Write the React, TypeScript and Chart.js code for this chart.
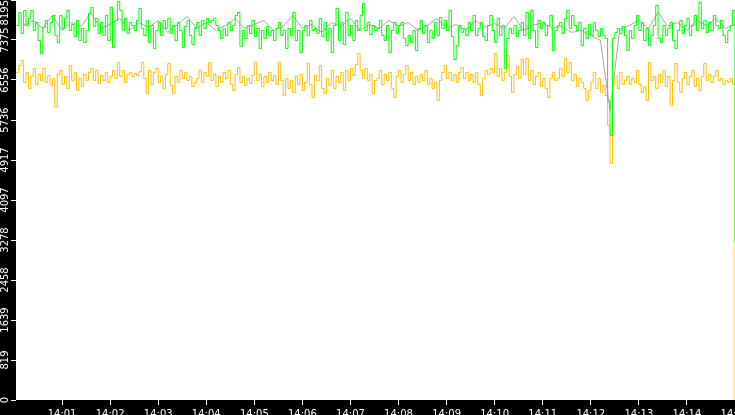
import { useEffect, useRef } from "react";
import { Chart, registerables } from "chart.js";

Chart.register(...registerables);

// seconds after 14:00:00
const sampleStep = 3;
const greySampleStep = 12;
const xMin = 2.5;
const xMax = 900;
const yMax = 8195;

const xTickLabels = [
  "14:01", "14:02", "14:03", "14:04", "14:05", "14:06", "14:07",
  "14:08", "14:09", "14:10", "14:11", "14:12", "14:13", "14:14", "14:15",
];
const yTickLabels = ["0", "819", "1639", "2458", "3278", "4097", "4917", "5736", "6556", "7375", "8195"];

const greenValues = [
  7674, 7940, 7510, 7981, 7674, 7817, 7981, 7571, 7735, 7366, 7100,
  7633, 7776, 7530, 7735, 7879, 7469, 7325, 7879, 7612, 7817,
  7981, 7571, 7694, 7448, 7776, 7366, 7612, 7325, 7571, 7920,
  8043, 7653, 7817, 7510, 7735, 7469, 7879, 7366, 8043, 7223,
  7776, 8166, 7981, 7571, 7817, 7510, 7735, 7674, 7571, 7776,
  8022, 7612, 7469, 7776, 7325, 7674, 7202, 7571, 7735, 7469,
  7776, 7612, 7817, 7510, 7674, 7366, 7735, 7571, 7223, 7653,
  7776, 7469, 7284, 7612,
  7735, 7469, 7776, 7612, 7817, 7735, 7776, 7817, 7674, 7571,
  7407, 7612, 7469, 7735, 7571, 7674, 7879, 7940, 7243, 7571,
  7407, 7674, 7510, 7776, 7448, 7612, 7202, 7571, 7407, 7653,
  7469, 7571, 7366, 7612, 7735, 7469, 7571, 7202, 7612, 7469,
  7940, 7366, 7571, 7120, 7571, 7674, 7469, 7776, 7571, 7612,
  7510, 7817, 7448, 7735, 7366, 7612, 7120, 7674, 8022, 7366,
  7735, 7284, 7940, 7469, 7674, 7366, 7776, 7571, 7879, 8125,
  7571, 7735, 7489, 7674, 7571,
  7612, 7776, 7469, 7366, 7674, 7120, 7571, 7735, 7510, 7674,
  7735, 7407, 7264, 7469, 7325, 7571, 7161, 7612, 7776, 7510,
  7674, 7325, 7571, 7407, 7735, 7469, 7838, 7612, 7776, 7571,
  7981, 7448, 6977, 7264, 7674, 7530, 7612, 7469, 7735, 7571,
  7879, 7469, 7612, 7735, 7448, 7366, 7674, 7879, 7571, 7325,
  7817, 7469, 7674, 6793, 7407, 7612, 7510, 7674, 7448, 7571,
  7735, 7469, 7940, 7407, 7981, 7571, 7223, 7776, 7612, 7735,
  7469, 7674, 7879, 7161, 7571,
  7674, 7735, 7510, 7817, 7981, 7612, 7879, 7674, 7571, 7735,
  7264, 7612, 7407, 7694, 7469, 7735, 7571, 7448, 7612, 7469,
  7407, 6137, 5420, 7407,
  7530, 7612, 7510, 7653, 7469, 7161, 7571, 7407, 7674, 7879,
  7571, 7735, 7366, 7612, 7264, 7469, 7674, 8084, 7407, 7325,
  7674, 7469, 7612, 7735, 7366, 7202, 7571, 7776, 7510, 7674,
  7817, 7469, 7674, 7879, 7571, 8145, 7612, 7776, 7530, 7735,
  7571, 7879, 7674, 7612, 7776, 7469, 7325, 7571, 7674, 7981,
  3227,
];

const orangeValues = [
  6711, 6854, 6957, 6506, 6711, 6383, 6629, 6793, 6465, 6670,
  6547, 6793, 6506, 6649, 6444, 6588, 5994, 6670, 6752, 6465,
  6629, 6383, 6854, 6547, 6711, 6342, 6588, 6424, 6670, 6547,
  6711, 6793, 6547, 6752, 6485, 6649, 6547, 6711, 6506, 6629,
  6752, 6588, 6916, 6629, 6752, 6506, 6670, 6711, 6629, 6690,
  6649, 6731, 6916, 6588, 6280, 6752, 6465, 6711, 6793, 6506,
  6629, 6383, 6670, 6895, 6444, 6280, 6629, 6506, 6752, 6588,
  6711, 6547, 6629, 6424, 6506,
  6588, 6752, 6506, 6711, 6629, 6916, 6547, 6670, 6424, 6629,
  6506, 6711, 6588, 6752, 6465, 6342, 6670, 6813, 6506, 6629,
  6444, 6588, 6485, 6649, 6916, 6547, 6670, 6424, 6629, 6506,
  6711, 6547, 6649, 6465, 6916, 6547, 6239, 6588, 6383, 6547,
  6301, 6629, 6465, 6670, 6342, 6506, 6895, 6465, 6198, 6649,
  6547, 6854, 6383, 6280, 6588, 6444, 6752, 6383, 6629, 6506,
  6711, 6342, 6752, 6547, 6793, 6649, 6875, 7100, 6752, 6588,
  6793, 6547, 6670, 6280, 6547,
  6588, 6752, 6465, 6670, 6547, 6711, 6383, 6198, 6629, 6752,
  6506, 6670, 6854, 6547, 6711, 6465, 6629, 6506, 6670, 6547,
  6752, 6465, 6588, 6383, 6506, 6137, 6547, 6711, 6854, 6588,
  6711, 6547, 6670, 6506, 6711, 6813, 6588, 6711, 6547, 6670,
  6506, 6711, 6465, 6239, 6588, 6752, 6670, 6793, 6711, 7100,
  6629, 6793, 6547, 6711, 7059, 6629, 6301, 6670, 6834, 6588,
  6977, 6670, 6998, 6547, 6752, 6465, 6629, 6711, 6424, 6588,
  6383, 6198, 6588, 6711, 6547,
  6588, 6793, 6629, 6998, 6711, 6916, 6547, 6670, 6424, 6588,
  6506, 6383, 6137, 6342, 6506, 6711, 6383, 6588, 6301, 6444,
  6239, 5625, 4846, 6465,
  6629, 6383, 6711, 6465, 6547, 6629, 6465, 6588, 6506, 6752,
  6465, 6301, 6424, 6137, 6916, 6547, 6629, 6383, 6670, 6506,
  6752, 6424, 6629, 6035, 6547, 6895, 6506, 6301, 6588, 6711,
  6465, 6629, 6752, 6424, 6588, 6342, 6629, 6895, 6547, 6670,
  6506, 6629, 6752, 6547, 6588, 6465, 6547, 6506, 6588, 6465,
  0,
];

const greyValues = [
  7674, 7776, 7612, 7879, 7571, 7735, 7653, 7940, 7612, 7694,
  7817, 7571, 7735, 7633, 7776, 7530, 7694, 7858, 7612, 7735,
  7571, 7674, 7817, 7612, 7694, 7776, 7571, 7653, 7879, 7612,
  7694, 7530, 7735, 7653, 7817, 7571, 7694, 7612, 7776, 7653,
  7735, 7571, 7674, 7817, 7612, 7694, 7571, 7776, 7633, 7715,
  7612, 7858, 7571, 7674, 7735, 7612, 7653, 7530, 7571, 7469,
  7366, 5932, 7571, 7674, 7776, 7612, 7940, 7653, 7735, 7571,
  7776, 7674, 7817, 7612, 7694,
];

const toPoints = (values: number[], step: number) =>
  values.map((y, i) => ({ x: (i + 1) * step, y }));

const tickFont = { family: "'DejaVu Sans', sans-serif", size: 10 };

const plotBackground = {
  id: "plotBackground",
  beforeDraw(chart: Chart) {
    const { ctx, chartArea, width, height } = chart;
    ctx.save();
    ctx.fillStyle = "#000";
    ctx.fillRect(0, 0, width, height);
    ctx.fillStyle = "#fff";
    ctx.fillRect(chartArea.left, chartArea.top, chartArea.right - chartArea.left, chartArea.bottom - chartArea.top);
    ctx.restore();
  },
};

export default function App() {
  const canvasRef = useRef<HTMLCanvasElement>(null);
  const chartRef = useRef<Chart | null>(null);

  useEffect(() => {
    document.body.style.margin = "0";
    if (!canvasRef.current) return;
    chartRef.current?.destroy();
    const lastY = yTickLabels.length - 1;
    chartRef.current = new Chart(canvasRef.current, {
      type: "line",
      data: {
        datasets: [
          { data: toPoints(greenValues, sampleStep), borderColor: "#00ff00", stepped: true },
          { data: toPoints(orangeValues, sampleStep), borderColor: "#ffc000", stepped: true },
          { data: toPoints(greyValues, greySampleStep), borderColor: "#a8a8a8" },
        ],
      },
      options: {
        responsive: false,
        devicePixelRatio: 1,
        animation: false,
        events: [],
        layout: { padding: 0 },
        elements: {
          point: { radius: 0 },
          line: { borderWidth: 1, tension: 0 },
        },
        plugins: { legend: { display: false }, tooltip: { enabled: false } },
        scales: {
          x: {
            type: "linear",
            min: xMin,
            max: xMax,
            afterBuildTicks: (axis: any) => {
              axis.ticks = xTickLabels.map((_, i) => ({ value: 60 * (i + 1) }));
            },
            afterFit: (axis: any) => {
              axis.height = 15;
              axis.paddingLeft = 0;
              axis.paddingRight = 0;
            },
            grid: { drawOnChartArea: false, tickLength: 5, color: "#fff" },
            border: { display: false },
            ticks: {
              color: "#fff",
              padding: 3,
              maxRotation: 0,
              autoSkip: false,
              font: tickFont,
              callback: (_v: any, i: number) => xTickLabels[i],
            },
          },
          y: {
            min: 0,
            max: yMax,
            afterBuildTicks: (axis: any) => {
              axis.ticks = yTickLabels.map((_, i) => ({ value: (yMax * i) / lastY }));
            },
            afterFit: (axis: any) => {
              axis.width = 16;
              axis.paddingTop = 0;
              axis.paddingBottom = 0;
            },
            grid: { drawOnChartArea: false, tickLength: 5, color: "#fff" },
            border: { display: false },
            ticks: {
              color: "#fff",
              minRotation: 90,
              maxRotation: 90,
              crossAlign: "center",
              padding: -20,
              autoSkip: false,
              font: tickFont,
              callback: (_v: any, i: number) =>
                i === lastY ? yTickLabels[i] + "\u2007\u2007\u2007\u2007" : yTickLabels[i],
            },
          },
        },
      },
      plugins: [plotBackground],
    } as any);
    return () => chartRef.current?.destroy();
  }, []);

  return (
    <div style={{ width: 735, height: 415, background: "#000" }}>
      <canvas ref={canvasRef} width={735} height={415} />
    </div>
  );
}
